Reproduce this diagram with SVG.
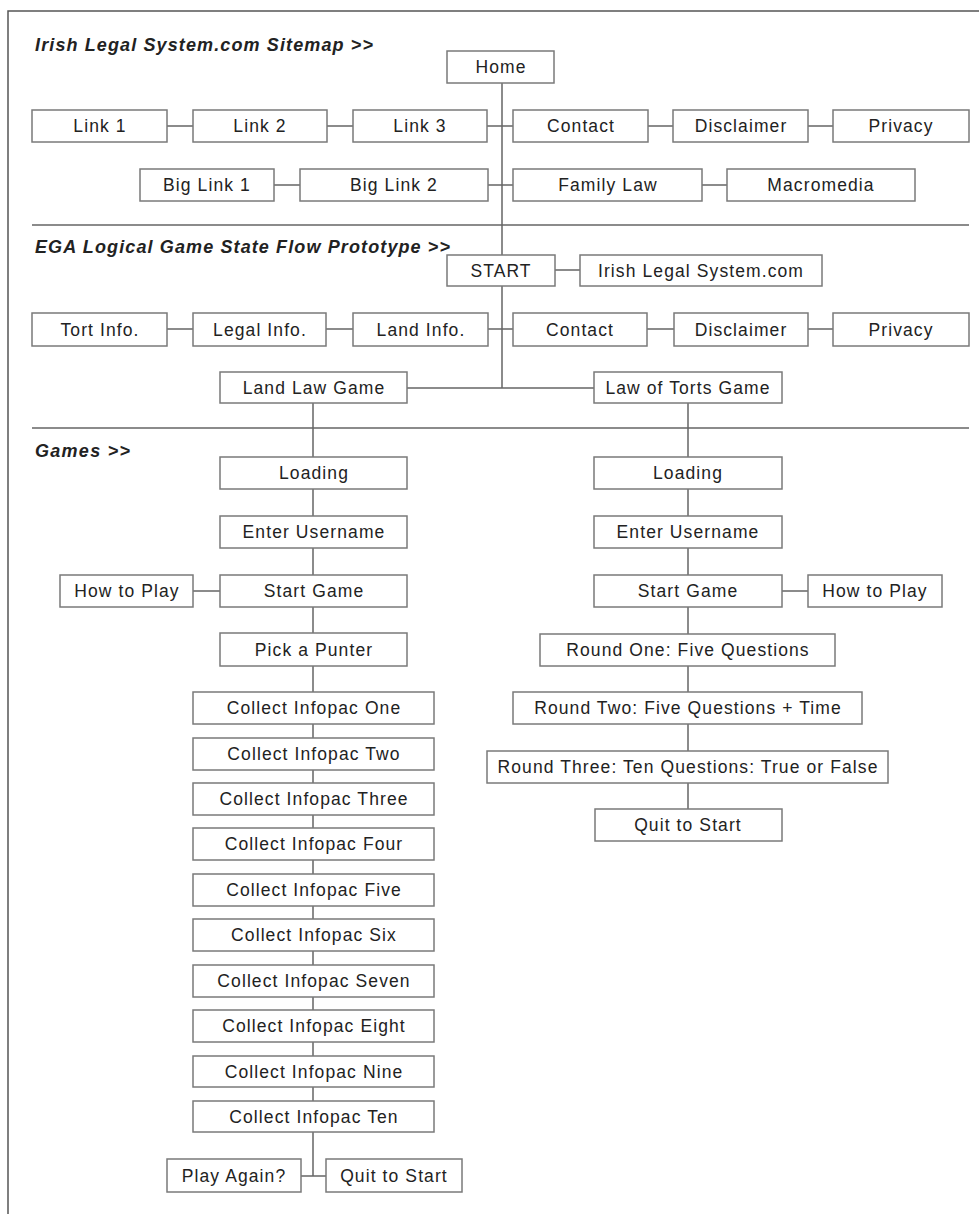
<svg xmlns="http://www.w3.org/2000/svg" width="979" height="1214" viewBox="0 0 979 1214">
<style>
.bx{fill:#fff;stroke:#7a7a7a;stroke-width:1.5}
.t{font-family:"Liberation Sans",Arial,sans-serif;font-size:17.5px;letter-spacing:1.1px;fill:#222;text-anchor:middle}
.h{font-family:"Liberation Sans",Arial,sans-serif;font-size:18px;font-weight:bold;font-style:italic;fill:#222}
.c{stroke:#666;stroke-width:1.5;fill:none}
.f{stroke:#555;stroke-width:1.5;fill:none}
</style>
<rect width="979" height="1214" fill="#fff"/>
<g id="frame">
<path class="f" d="M8,1214 V11 H979"/>
<path class="c" d="M32,225 H969 M32,428 H969"/>
</g>
<g id="headings">
<text class="h" x="35" y="51" textLength="338" lengthAdjust="spacing">Irish Legal System.com Sitemap &gt;&gt;</text>
<text class="h" x="35" y="253" textLength="415" lengthAdjust="spacing">EGA Logical Game State Flow Prototype &gt;&gt;</text>
<text class="h" x="35" y="457" textLength="95" lengthAdjust="spacing">Games &gt;&gt;</text>
</g>
<g id="connectors">
<path class="c" d="M502,83 V255 M167,126 H193 M327,126 H353 M487,126 H513 M648,126 H673 M808,126 H833"/>
<path class="c" d="M274,185 H300 M488,185 H513 M702,185 H727"/>
<path class="c" d="M555,270 H580 M502,286 V388 M167,329 H193 M326,329 H353 M488,329 H513 M647,329 H674 M808,329 H833 M407,388 H594"/>
<path class="c" d="M313,403 V692 M193,591 H220 M313,724 V738 M313,770 V783 M313,815 V828 M313,860 V874 M313,906 V919 M313,951 V965 M313,997 V1010 M313,1042 V1056 M313,1087 V1101 M313,1132 V1176 M301,1176 H326"/>
<path class="c" d="M688,403 V809 M782,591 H808"/>
</g>
<g id="n-home"><rect class="bx" x="447" y="51" width="107" height="32"/><text class="t" x="501" y="73">Home</text></g>
<g id="n-link1"><rect class="bx" x="32" y="110" width="135" height="32"/><text class="t" x="100" y="132">Link 1</text></g>
<g id="n-link2"><rect class="bx" x="193" y="110" width="134" height="32"/><text class="t" x="260" y="132">Link 2</text></g>
<g id="n-link3"><rect class="bx" x="353" y="110" width="134" height="32"/><text class="t" x="420" y="132">Link 3</text></g>
<g id="n-contact1"><rect class="bx" x="513" y="110" width="135" height="32"/><text class="t" x="581" y="132">Contact</text></g>
<g id="n-disclaimer1"><rect class="bx" x="673" y="110" width="135" height="32"/><text class="t" x="741" y="132">Disclaimer</text></g>
<g id="n-privacy1"><rect class="bx" x="833" y="110" width="136" height="32"/><text class="t" x="901" y="132">Privacy</text></g>
<g id="n-biglink1"><rect class="bx" x="140" y="169" width="134" height="32"/><text class="t" x="207" y="191">Big Link 1</text></g>
<g id="n-biglink2"><rect class="bx" x="300" y="169" width="188" height="32"/><text class="t" x="394" y="191">Big Link 2</text></g>
<g id="n-familylaw"><rect class="bx" x="513" y="169" width="189" height="32"/><text class="t" x="608" y="191">Family Law</text></g>
<g id="n-macromedia"><rect class="bx" x="727" y="169" width="188" height="32"/><text class="t" x="821" y="191">Macromedia</text></g>
<g id="n-start"><rect class="bx" x="447" y="255" width="108" height="31"/><text class="t" x="501" y="277">START</text></g>
<g id="n-irishlegal"><rect class="bx" x="580" y="255" width="242" height="31"/><text class="t" x="701" y="277">Irish Legal System.com</text></g>
<g id="n-tort"><rect class="bx" x="32" y="313" width="135" height="33"/><text class="t" x="100" y="336">Tort Info.</text></g>
<g id="n-legal"><rect class="bx" x="193" y="313" width="133" height="33"/><text class="t" x="260" y="336">Legal Info.</text></g>
<g id="n-land"><rect class="bx" x="353" y="313" width="135" height="33"/><text class="t" x="421" y="336">Land Info.</text></g>
<g id="n-contact2"><rect class="bx" x="513" y="313" width="134" height="33"/><text class="t" x="580" y="336">Contact</text></g>
<g id="n-disclaimer2"><rect class="bx" x="674" y="313" width="134" height="33"/><text class="t" x="741" y="336">Disclaimer</text></g>
<g id="n-privacy2"><rect class="bx" x="833" y="313" width="136" height="33"/><text class="t" x="901" y="336">Privacy</text></g>
<g id="n-landgame"><rect class="bx" x="220" y="372" width="187" height="31"/><text class="t" x="314" y="394">Land Law Game</text></g>
<g id="n-tortsgame"><rect class="bx" x="594" y="372" width="188" height="31"/><text class="t" x="688" y="394">Law of Torts Game</text></g>
<g id="n-l-loading"><rect class="bx" x="220" y="457" width="187" height="32"/><text class="t" x="314" y="479">Loading</text></g>
<g id="n-l-username"><rect class="bx" x="220" y="516" width="187" height="32"/><text class="t" x="314" y="538">Enter Username</text></g>
<g id="n-l-start"><rect class="bx" x="220" y="575" width="187" height="32"/><text class="t" x="314" y="597">Start Game</text></g>
<g id="n-l-howto"><rect class="bx" x="60" y="575" width="133" height="32"/><text class="t" x="127" y="597">How to Play</text></g>
<g id="n-l-punter"><rect class="bx" x="220" y="633" width="187" height="33"/><text class="t" x="314" y="656">Pick a Punter</text></g>
<g id="n-i1"><rect class="bx" x="193" y="692" width="241" height="32"/><text class="t" x="314" y="714">Collect Infopac One</text></g>
<g id="n-i2"><rect class="bx" x="193" y="738" width="241" height="32"/><text class="t" x="314" y="760">Collect Infopac Two</text></g>
<g id="n-i3"><rect class="bx" x="193" y="783" width="241" height="32"/><text class="t" x="314" y="805">Collect Infopac Three</text></g>
<g id="n-i4"><rect class="bx" x="193" y="828" width="241" height="32"/><text class="t" x="314" y="850">Collect Infopac Four</text></g>
<g id="n-i5"><rect class="bx" x="193" y="874" width="241" height="32"/><text class="t" x="314" y="896">Collect Infopac Five</text></g>
<g id="n-i6"><rect class="bx" x="193" y="919" width="241" height="32"/><text class="t" x="314" y="941">Collect Infopac Six</text></g>
<g id="n-i7"><rect class="bx" x="193" y="965" width="241" height="32"/><text class="t" x="314" y="987">Collect Infopac Seven</text></g>
<g id="n-i8"><rect class="bx" x="193" y="1010" width="241" height="32"/><text class="t" x="314" y="1032">Collect Infopac Eight</text></g>
<g id="n-i9"><rect class="bx" x="193" y="1056" width="241" height="31"/><text class="t" x="314" y="1078">Collect Infopac Nine</text></g>
<g id="n-i10"><rect class="bx" x="193" y="1101" width="241" height="31"/><text class="t" x="314" y="1123">Collect Infopac Ten</text></g>
<g id="n-playagain"><rect class="bx" x="167" y="1159" width="134" height="33"/><text class="t" x="234" y="1182">Play Again?</text></g>
<g id="n-l-quit"><rect class="bx" x="326" y="1159" width="136" height="33"/><text class="t" x="394" y="1182">Quit to Start</text></g>
<g id="n-r-loading"><rect class="bx" x="594" y="457" width="188" height="32"/><text class="t" x="688" y="479">Loading</text></g>
<g id="n-r-username"><rect class="bx" x="594" y="516" width="188" height="32"/><text class="t" x="688" y="538">Enter Username</text></g>
<g id="n-r-start"><rect class="bx" x="594" y="575" width="188" height="32"/><text class="t" x="688" y="597">Start Game</text></g>
<g id="n-r-howto"><rect class="bx" x="808" y="575" width="134" height="32"/><text class="t" x="875" y="597">How to Play</text></g>
<g id="n-r1"><rect class="bx" x="540" y="634" width="295" height="32"/><text class="t" x="688" y="656">Round One: Five Questions</text></g>
<g id="n-r2"><rect class="bx" x="513" y="692" width="349" height="32"/><text class="t" x="688" y="714">Round Two: Five Questions + Time</text></g>
<g id="n-r3"><rect class="bx" x="487" y="751" width="401" height="32"/><text class="t" x="688" y="773">Round Three: Ten Questions: True or False</text></g>
<g id="n-r-quit"><rect class="bx" x="595" y="809" width="187" height="32"/><text class="t" x="688" y="831">Quit to Start</text></g>
</svg>
